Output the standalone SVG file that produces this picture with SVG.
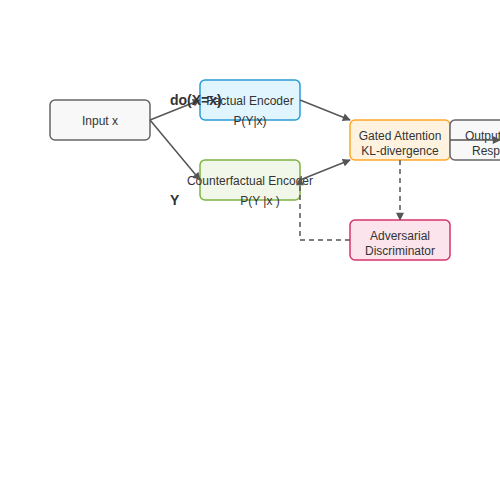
<svg xmlns="http://www.w3.org/2000/svg" width="500" height="500" viewBox="0 0 500 500">
<defs>
<marker id="ah" viewBox="0 0 10 10" refX="9" refY="5" markerWidth="9" markerHeight="8" orient="auto-start-reverse" markerUnits="userSpaceOnUse">
<path d="M0,0 L10,5 L0,10 z" fill="#555"/>
</marker>
<style>
.n{stroke-width:1.5}
.t{font-family:"Liberation Sans",Arial,sans-serif;font-size:12px;fill:#333;text-anchor:middle}
.b{font-family:"Liberation Sans",Arial,sans-serif;font-size:14px;font-weight:bold;fill:#333}
.c{fill:none;stroke:#555;stroke-width:1.5}
.d{stroke-dasharray:5,4}
</style>
</defs>
<rect width="500" height="500" fill="#fff"/>
<g id="input"><rect class="n" x="50" y="100" width="100" height="40" rx="5" fill="#f8f8f8" stroke="#666"/><text class="t" x="100" y="125">Input x</text></g>
<g id="factual"><rect class="n" x="200" y="80" width="100" height="40" rx="5" fill="#e1f5fe" stroke="#2b9bd8"/><text class="t" x="250" y="105">Factual Encoder</text><text class="t" x="250" y="125">P(Y|x)</text></g>
<g id="counterfactual"><rect class="n" x="200" y="160" width="100" height="40" rx="5" fill="#f1f8e9" stroke="#7cb342"/><text class="t" x="250" y="185">Counterfactual Encoder</text><text class="t" x="260" y="205">P(Y  |x )</text></g>
<g id="gated"><rect class="n" x="350" y="120" width="100" height="40" rx="5" fill="#fff3e0" stroke="#ffa726"/><text class="t" x="400" y="140">Gated Attention</text><text class="t" x="400" y="155">KL-divergence</text></g>
<g id="output"><rect class="n" x="450" y="120" width="100" height="40" rx="5" fill="#f8f8f8" stroke="#666"/><text class="t" x="465" y="140" style="text-anchor:start">Output</text><text class="t" x="472" y="155" style="text-anchor:start">Response</text></g>
<g id="adversarial"><rect class="n" x="350" y="220" width="100" height="40" rx="5" fill="#fce4ec" stroke="#d6336c"/><text class="t" x="400" y="240">Adversarial</text><text class="t" x="400" y="255">Discriminator</text></g>
<g id="connectors">
<line class="c" x1="150" y1="120" x2="200" y2="100" marker-end="url(#ah)"/>
<line class="c" x1="150" y1="120" x2="200" y2="180" marker-end="url(#ah)"/>
<line class="c" x1="300" y1="100" x2="350" y2="120" marker-end="url(#ah)"/>
<line class="c" x1="300" y1="180" x2="350" y2="160" marker-end="url(#ah)"/>
<line class="c" x1="450" y1="140" x2="500" y2="140" marker-end="url(#ah)"/>
<line class="c d" x1="400" y1="160" x2="400" y2="220" marker-end="url(#ah)"/>
<polyline class="c d" points="350,240 300,240 300,178" marker-end="url(#ah)"/>
<text class="b" x="170" y="105">do(X=x)</text>
<text class="b" x="170" y="205">Y</text>
</g>
</svg>
